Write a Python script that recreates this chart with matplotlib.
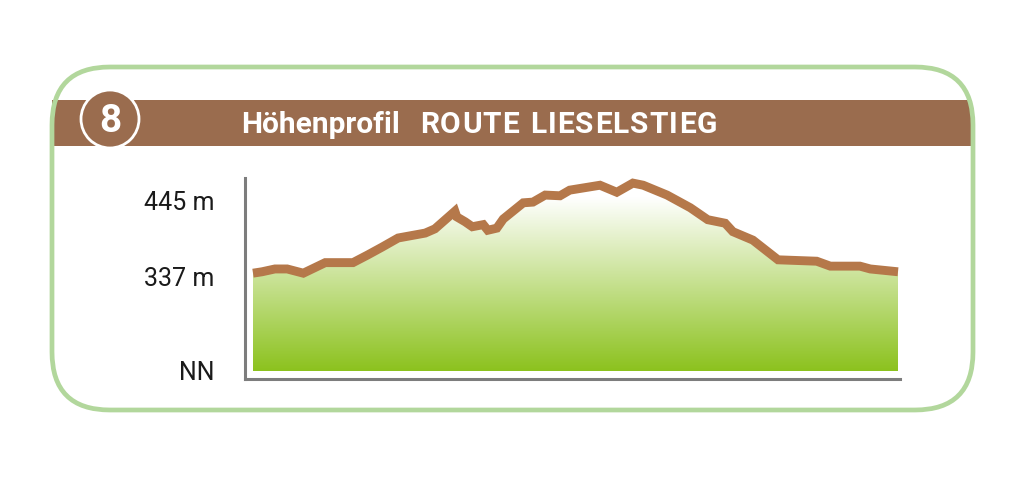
import numpy as np
import matplotlib.pyplot as plt
from matplotlib.patches import FancyBboxPatch, Rectangle, Circle

# Route profile, distance in % of route, elevation in m
dist = [0.0, 1.4, 3.4, 5.3, 7.8, 11.2, 15.5, 17.8, 20.0, 22.5, 26.7, 28.2, 31.3, 31.6,
        32.9, 34.0, 35.7, 36.4, 37.8, 38.8, 41.9, 43.4, 45.3, 47.6, 49.1, 53.8, 56.4,
        58.9, 60.5, 64.2, 67.8, 70.5, 73.2, 74.4, 77.5, 81.4, 87.4, 89.5, 94.1, 95.7, 100.0]
elev = [341, 343, 347, 347, 341, 356, 356, 367, 378, 391, 398, 404, 429, 421,
        414, 407, 410, 402, 405, 418, 441, 442, 452, 451, 459, 466, 456,
        469, 466, 452, 434, 417, 412, 400, 388, 360, 358, 351, 351, 347, 343]

nn_level = 202
tick_vals = [nn_level, 337, 445]
tick_labels = ["NN", "337 m", "445 m"]

route_no = "8"
title_a = "Höhenprofil"
title_b = "ROUTE LIESELSTIEG"

brown = "#9a6c4e"
line_col = "#b5784a"
frame_col = "#b2d79c"
green = "#8cc21e"
axis_col = "#7d7d7d"

W, H = 1024, 478
fig = plt.figure(figsize=(W / 100, H / 100), dpi=100)

# background layer in pixel coordinates
bg = fig.add_axes([0, 0, 1, 1])
bg.set_xlim(0, W)
bg.set_ylim(H, 0)
bg.axis("off")

bg.add_patch(Rectangle((52, 100), 920, 46, facecolor=brown, edgecolor="none", zorder=1))
bg.add_patch(FancyBboxPatch((52, 67), 921, 343, boxstyle="round,pad=0,rounding_size=58",
                            facecolor="none", edgecolor=frame_col, linewidth=3.4, zorder=2))
bg.add_patch(Circle((110, 119), 29, facecolor=brown, edgecolor="white", linewidth=2, zorder=3))
bg.text(110, 121, route_no, color="white", fontsize=28, fontweight="bold",
        family="Roboto", ha="center", va="center", zorder=4)
bg.text(241, 133, title_a, color="white", fontsize=21.5, fontweight="bold",
        family="Roboto", ha="left", va="baseline", zorder=4)

# spaced-out second part of the title, fitted between x=420 and x=717
renderer = fig.canvas.get_renderer()
chars = []
for ch in title_b:
    if ch == " ":
        chars.append((None, 9))
        continue
    t = bg.text(0, 133, ch, color="white", fontsize=21.5, fontweight="bold",
                family="Roboto", ha="left", va="baseline", zorder=4)
    chars.append((t, t.get_window_extent(renderer).width))
track = (717 - 420 - sum(w for _, w in chars)) / (len(chars) - 1)
x = 420
for t, w in chars:
    if t is not None:
        t.set_x(x)
    x += w + track

# profile axes
left, right, top, bottom = 245, 900, 178, 379
ax = fig.add_axes([left / W, (H - bottom) / H, (right - left) / W, (bottom - top) / H])
ax.patch.set_alpha(0)

px_per_m = 76 / 108
ax.set_ylim(337 - (bottom - 276) / px_per_m, 337 + (276 - top) / px_per_m)
ax.set_xlim(-8 / 6.45, 100 + 2 / 6.45)

poly = ax.fill_between(dist, elev, nn_level, facecolor="none", edgecolor="none")
grad = np.linspace(0, 1, 256)[:, None, None]
c_bot = np.array(plt.matplotlib.colors.to_rgb(green))
c_top = np.array([1.0, 1.0, 1.0])
img = c_bot * (1 - grad) + c_top * grad
im = ax.imshow(img, extent=[dist[0], dist[-1], nn_level, 448], origin="lower",
               aspect="auto", zorder=1)
im.set_clip_path(poly.get_paths()[0], transform=ax.transData)

ax.plot(dist, elev, color=line_col, linewidth=6.4, solid_joinstyle="miter",
        solid_capstyle="butt", zorder=3)

for s in ["top", "right"]:
    ax.spines[s].set_visible(False)
for s in ["left", "bottom"]:
    ax.spines[s].set_color(axis_col)
    ax.spines[s].set_linewidth(2.2)

ax.set_xticks([])
ax.set_yticks(tick_vals)
ax.set_yticklabels(tick_labels, fontsize=18, family="Roboto", color="#1a1a1a")
ax.tick_params(axis="y", length=0, pad=22)

fig.savefig("out.png", dpi=100)
